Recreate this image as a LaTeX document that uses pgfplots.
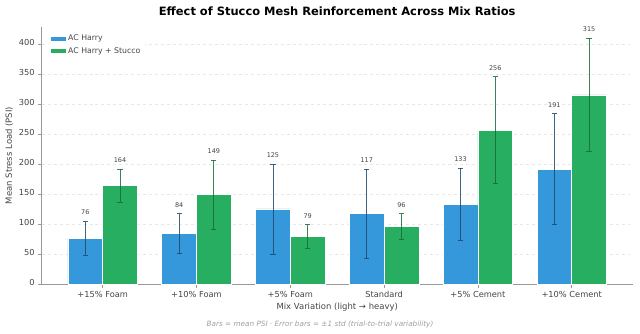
\documentclass[border=0pt]{standalone}
\usepackage{pgfplots}
\pgfplotsset{compat=1.18}
\usepackage{pgfplotstable}
\usepackage{fontspec}
\setmainfont{DejaVu Sans}

\definecolor{harry}{HTML}{3498DB}
\definecolor{stucco}{HTML}{27AE60}
\definecolor{harryerr}{HTML}{1F4A6E}
\definecolor{stuccoerr}{HTML}{1A6B3A}
\definecolor{txt}{HTML}{444444}
\definecolor{spine}{HTML}{999999}

% mean and one standard deviation per mix, for both panels
\pgfplotstableread{
idx  mA   sA    mS   sS
0    76   28    164  27.5
1    84   33    149  57.5
2    125  75    79   19.5
3    117  74.5  96   21
4    133  60    256  89
5    191  92.5  315  94
}\datatable

\pgfplotsset{
  errplot/.style={draw=none, mark=none, forget plot,
    error bars/.cd, y dir=both, y explicit,
    error bar style={draw=#1, opacity=0.85, line width=0.8pt},
    error mark options={rotate=90, draw=#1, mark size=2.6bp, line width=0.8pt}},
  valplot/.style={draw=none, mark=none, forget plot,
    nodes near coords, point meta=explicit symbolic,
    every node near coord/.style={anchor=south, yshift=3bp,
      font=\fontsize{6.5}{8}\selectfont, text=txt}},
}

\begin{document}
\begin{tikzpicture}
\useasboundingbox (-41.7bp,-50bp) rectangle (598.3bp,284bp);
\begin{axis}[
  scale only axis,
  width=591bp, height=257bp,
  xmin=-0.65, xmax=5.65,
  ymin=0, ymax=428,
  axis x line*=bottom, axis y line*=left,
  axis line style={spine, line width=0.8pt},
  tick style={spine, line width=0.6pt},
  tick align=outside,
  major tick length=3.5bp,
  xtick={0,1,2,3,4,5},
  xticklabels={+15\% Foam,+10\% Foam,+5\% Foam,Standard,+5\% Cement,+10\% Cement},
  typeset ticklabels with strut,
  ytick={0,50,...,400},
  ticklabel style={font=\fontsize{8.3}{9.5}\selectfont, text=txt},
  /pgf/number format/assume math mode=true,
  ymajorgrids,
  grid style={dashed, gray!18, line width=0.5pt},
  title={\bfseries Effect of Stucco Mesh Reinforcement Across Mix Ratios},
  title style={font=\fontsize{11.5}{13}\selectfont, at={(0.5,1)}, above, yshift=1.5bp},
  xlabel={Mix Variation (light → heavy)},
  ylabel={Mean Stress Load (PSI)},
  label style={font=\fontsize{8.5}{10}\selectfont, text=txt},
  xlabel style={yshift=4bp},
  ylabel style={yshift=-1bp},
  legend style={draw=none, fill=white,
    at={(0.008,0.985)}, anchor=north west,
    font=\fontsize{7.8}{9}\selectfont, text=txt,
    row sep=1bp},
  legend cell align=left,
  legend image code/.code={\fill[#1] (0bp,-2.5bp) rectangle (16bp,2.5bp);},
]
\addplot[ybar, bar width=0.37, bar shift=-0.185, fill=harry, draw=white, line width=0.6pt]
  table[x=idx, y=mA] {\datatable};
\addlegendentry{AC Harry}
\addplot[ybar, bar width=0.37, bar shift=0.185, fill=stucco, draw=white, line width=0.6pt]
  table[x=idx, y=mS] {\datatable};
\addlegendentry{AC Harry + Stucco}

% one standard deviation either side of each mean
\addplot[errplot=harryerr]
  table[x expr=\thisrow{idx}-0.185, y=mA, y error=sA] {\datatable};
\addplot[errplot=stuccoerr]
  table[x expr=\thisrow{idx}+0.185, y=mS, y error=sS] {\datatable};

% value labels set just above each error bar
\addplot[valplot]
  table[x expr=\thisrow{idx}-0.185, y expr=\thisrow{mA}+\thisrow{sA}, meta=mA] {\datatable};
\addplot[valplot]
  table[x expr=\thisrow{idx}+0.185, y expr=\thisrow{mS}+\thisrow{sS}, meta=mS] {\datatable};
\end{axis}
\node[font=\itshape\fontsize{7.3}{8.5}\selectfont, text=gray!75] at (278.3bp,-40bp)
  {Bars = mean PSI · Error bars = ±1 std (trial-to-trial variability)};
\end{tikzpicture}
\end{document}
